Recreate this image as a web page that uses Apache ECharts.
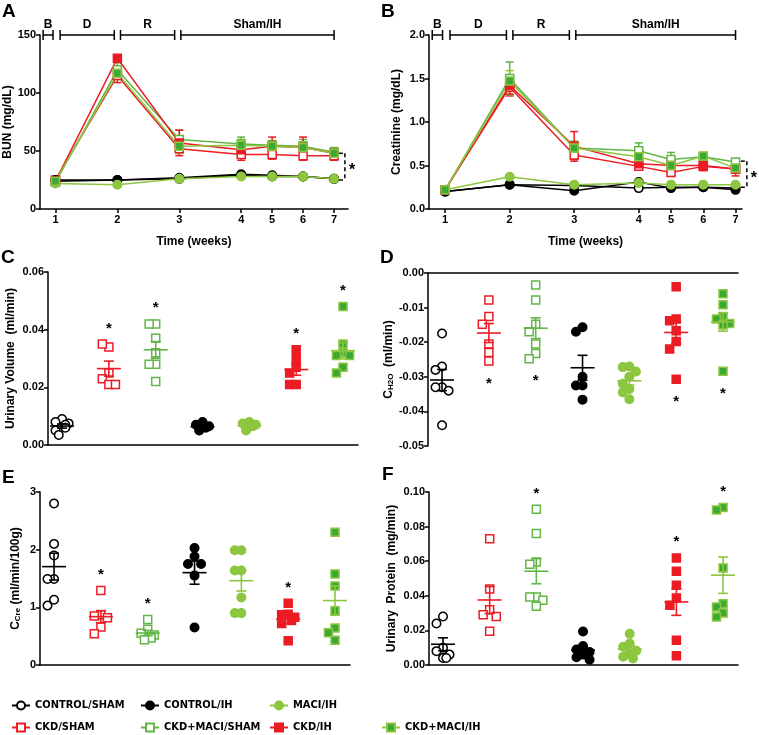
<!DOCTYPE html>
<html>
<head>
<meta charset="utf-8">
<script src="https://cdn.jsdelivr.net/npm/echarts@6/dist/echarts.min.js"></script>
<style>
  html, body { margin: 0; padding: 0; background: #fff; }
  #chart { width: 759px; height: 735px; }
</style>
</head>
<body>
<div id="chart"></div>
<script>
var FONT = '"Liberation Sans", Arial, sans-serif';

// groups, in the order they sit on the scatter panels
var groups = ['CONTROL/SHAM', 'CKD/SHAM', 'CKD+MACI/SHAM', 'CONTROL/IH', 'MACI/IH', 'CKD/IH', 'CKD+MACI/IH'];

// time course (A, B): week labels and where they sit on the x axis
var weekLabels = ['1', '2', '3', '4', '5', '6', '7'];
var weekPos = [0, 2, 4, 6, 7, 8, 9];
var phaseNames = ['B', 'D', 'R', 'Sham/IH'];
var phaseStart = [-0.4, 0.15, 2.1, 4.05];
var phaseEnd = [-0.08, 1.9, 3.85, 9];

// BUN (mg/dL), one row per group
var bunMean = [
    [24, 25, 26, 29, 28, 28, 26],
    [25, 115, 52, 47, 47, 46, 46],
    [23, 120, 60, 56, 55, 54, 49],
    [25, 25, 27, 30, 29, 28, 26],
    [22, 21, 26, 28, 28, 28, 26],
    [24, 130, 57, 51, 54, 53, 48],
    [24, 117, 54, 55, 54, 53, 48]
];
var bunSem = [
    [1, 1, 1, 1, 1, 1, 1],
    [2, 6, 3, 5, 4, 4, 4],
    [2, 6, 8, 6, 4, 6, 4],
    [1, 1, 1, 1, 1, 1, 1],
    [1, 1, 1, 1, 1, 1, 1],
    [2, 3, 11, 4, 8, 9, 3],
    [2, 5, 6, 5, 4, 5, 4]
];
var bunSig = [48, 25];

// Creatinine (mg/dL)
var creMean = [
    [0.20, 0.28, 0.27, 0.24, 0.25, 0.25, 0.24],
    [0.22, 1.40, 0.62, 0.49, 0.42, 0.49, 0.46],
    [0.22, 1.50, 0.70, 0.67, 0.57, 0.60, 0.54],
    [0.20, 0.28, 0.21, 0.31, 0.24, 0.25, 0.22],
    [0.22, 0.37, 0.28, 0.30, 0.28, 0.28, 0.28],
    [0.22, 1.42, 0.72, 0.52, 0.50, 0.50, 0.46],
    [0.22, 1.47, 0.70, 0.60, 0.50, 0.61, 0.47]
];
var creSem = [
    [0.01, 0.01, 0.01, 0.01, 0.01, 0.01, 0.01],
    [0.01, 0.10, 0.05, 0.04, 0.04, 0.05, 0.04],
    [0.01, 0.19, 0.08, 0.09, 0.08, 0.04, 0.03],
    [0.01, 0.01, 0.01, 0.01, 0.01, 0.01, 0.01],
    [0.01, 0.01, 0.01, 0.01, 0.01, 0.01, 0.01],
    [0.01, 0.10, 0.17, 0.05, 0.05, 0.05, 0.08],
    [0.01, 0.12, 0.06, 0.05, 0.05, 0.04, 0.03]
];
var creSig = [0.55, 0.25];

// C: urinary volume (ml/min)
var urineVolume = [
    [0.009, 0.008, 0.0075, 0.007, 0.006, 0.005, 0.0035],
    [0.034, 0.035, 0.025, 0.023, 0.021, 0.021],
    [0.042, 0.042, 0.037, 0.032, 0.028, 0.028, 0.022],
    [0.008, 0.007, 0.0065, 0.006, 0.0055, 0.005],
    [0.008, 0.0075, 0.007, 0.0065, 0.006, 0.005],
    [0.033, 0.030, 0.027, 0.025, 0.021, 0.021],
    [0.048, 0.035, 0.032, 0.031, 0.031, 0.027, 0.025]
];
var urineVolumeStars = [1, 2, 5, 6];

// D: free water clearance (ml/min)
var waterClearance = [
    [-0.0175, -0.027, -0.028, -0.033, -0.033, -0.034, -0.044],
    [-0.0078, -0.0126, -0.0148, -0.0205, -0.023, -0.0254],
    [-0.0035, -0.0078, -0.0148, -0.017, -0.0205, -0.0233, -0.0248],
    [-0.0157, -0.017, -0.030, -0.0325, -0.0325, -0.0366],
    [-0.027, -0.0272, -0.0285, -0.030, -0.032, -0.0335, -0.0345, -0.0365],
    [-0.004, -0.0133, -0.0138, -0.0167, -0.0198, -0.022, -0.0307],
    [-0.006, -0.0092, -0.0126, -0.0133, -0.0146, -0.015, -0.0284]
];
var waterClearanceStars = [1, 2, 5, 6];

// E: creatinine clearance (ml/min/100g)
var creClearance = [
    [2.8, 2.1, 1.9, 1.49, 1.49, 1.13, 1.03],
    [1.29, 0.87, 0.85, 0.82, 0.66, 0.54],
    [0.79, 0.62, 0.55, 0.52, 0.49, 0.47, 0.44],
    [2.03, 1.88, 1.75, 1.75, 1.55, 0.65],
    [1.99, 1.99, 1.64, 1.64, 1.17, 0.90, 0.90],
    [1.07, 0.88, 0.87, 0.83, 0.77, 0.72, 0.42],
    [2.30, 1.58, 1.37, 0.94, 0.64, 0.56, 0.43]
];
var creClearanceStars = [1, 2, 5];

// F: urinary protein (mg/min)
var urineProtein = [
    [0.028, 0.024, 0.010, 0.008, 0.006, 0.004, 0.004],
    [0.073, 0.044, 0.032, 0.029, 0.028, 0.0195],
    [0.090, 0.076, 0.0596, 0.0582, 0.0393, 0.0393, 0.0374, 0.0339],
    [0.0194, 0.011, 0.009, 0.0075, 0.006, 0.0045, 0.003],
    [0.018, 0.0124, 0.0105, 0.0082, 0.0067, 0.0048, 0.0038],
    [0.0619, 0.0542, 0.0461, 0.0388, 0.0346, 0.0143, 0.0053],
    [0.091, 0.0896, 0.0561, 0.0354, 0.0335, 0.030, 0.0278]
];
var urineProteinStars = [2, 5, 6];

// ---- styles ----
var RED = '#ec1c24', GREEN = '#62b646', LIGHT = '#8dc63f', DARK = '#3aaa35';
var groupStyle = [
    { color: '#000', symbol: 'circle', fill: '#fff' },
    { color: RED, symbol: 'rect', fill: '#fff' },
    { color: GREEN, symbol: 'rect', fill: '#fff' },
    { color: '#000', symbol: 'circle', fill: '#000' },
    { color: LIGHT, symbol: 'circle', fill: LIGHT },
    { color: RED, symbol: 'rect', fill: RED },
    { color: LIGHT, symbol: 'rect', fill: DARK }
];
var legendRow = [0, 1, 1, 0, 0, 1, 1];
var legendCol = [0, 0, 1, 1, 2, 2, 3];
var legendX = [11, 140, 269, 381];
var legendY = [700, 722];

var grids = [
    { left: 40, top: 35, width: 308, height: 174 },
    { left: 429, top: 35, width: 313, height: 174 },
    { left: 48, top: 272, width: 310, height: 173 },
    { left: 428, top: 273, width: 310, height: 173 },
    { left: 40, top: 492, width: 310, height: 173 },
    { left: 429, top: 492, width: 309, height: 173 }
];
var letterPos = [[2, 2], [381, 2], [1, 248], [380, 248], [2, 468], [382, 465]];

var axisLineStyle = { color: '#000', width: 1.5 };
var tickStyle = { show: true, length: 4, lineStyle: { color: '#000', width: 1.5 } };
var labelStyle = { color: '#000', fontWeight: 'bold', fontSize: 11, fontFamily: FONT };
var nameStyle = { color: '#000', fontWeight: 'bold', fontSize: 12, fontFamily: FONT };

function yAxisFor(idx, min, max, interval, digits, name, gap) {
    return {
        type: 'value', gridIndex: idx, min: min, max: max, interval: interval,
        axisLine: { show: true, onZero: false, lineStyle: axisLineStyle },
        axisTick: tickStyle,
        splitLine: { show: false },
        axisLabel: Object.assign({ margin: 4, formatter: function (v) { return v.toFixed(digits); } }, labelStyle),
        name: name, nameLocation: 'middle', nameGap: gap,
        nameTextStyle: Object.assign({
            rich: {
                c: { fontSize: 12, fontWeight: 'bold', fontFamily: FONT, lineHeight: 16, verticalAlign: 'bottom' },
                s: { fontSize: 8, fontWeight: 'bold', fontFamily: FONT, lineHeight: 10, verticalAlign: 'bottom' }
            }
        }, nameStyle)
    };
}

function groupXAxis(idx, pos) {
    return {
        type: 'value', gridIndex: idx, min: -0.3, max: 6.32, position: pos || 'bottom',
        axisLine: { show: true, onZero: false, lineStyle: axisLineStyle },
        axisTick: { show: false }, axisLabel: { show: false }, splitLine: { show: false }
    };
}

function timeXAxis(idx, max) {
    return {
        type: 'value', gridIndex: idx, min: -0.5, max: max,
        axisLine: { show: true, onZero: false, lineStyle: axisLineStyle },
        axisTick: Object.assign({ customValues: weekPos }, tickStyle),
        axisLabel: Object.assign({
            margin: 5, customValues: weekPos,
            formatter: function (v) { return weekLabels[weekPos.indexOf(v)]; }
        }, labelStyle),
        splitLine: { show: false },
        name: 'Time (weeks)', nameLocation: 'middle', nameGap: 27, nameTextStyle: nameStyle
    };
}

var xAxes = [timeXAxis(0, 9.45), timeXAxis(1, 9.2), groupXAxis(2), groupXAxis(3, 'top'), groupXAxis(4), groupXAxis(5)];
var yAxes = [
    yAxisFor(0, 0, 150, 50, 0, 'BUN (mg/dL)', 23),
    yAxisFor(1, 0, 2, 0.5, 1, 'Creatinine (mg/dL)', 26),
    yAxisFor(2, 0, 0.06, 0.02, 2, 'Urinary Volume  (ml/min)', 31),
    yAxisFor(3, -0.05, 0, 0.01, 2, '{c|C}{s|H2O}{c|  (ml/min)}', 31),
    yAxisFor(4, 0, 3, 1, 0, '{c|C}{s|Cre}{c| (ml/min/100g)}', 18),
    yAxisFor(5, 0, 0.1, 0.02, 2, 'Urinary  Protein  (mg/min)', 31)
];

var series = [];

// ---- render helpers ----
function renderErr(color) {
    return function (params, api) {
        var x = api.value(0), m = api.value(1), e = api.value(2);
        var t = api.coord([x, m + e]), b = api.coord([x, m - e]);
        var st = { stroke: color, lineWidth: 1.5 };
        return { type: 'group', children: [
            { type: 'line', shape: { x1: t[0], y1: t[1], x2: b[0], y2: b[1] }, style: st },
            { type: 'line', shape: { x1: t[0] - 4, y1: t[1], x2: t[0] + 4, y2: t[1] }, style: st },
            { type: 'line', shape: { x1: b[0] - 4, y1: b[1], x2: b[0] + 4, y2: b[1] }, style: st }
        ] };
    };
}

function renderMeanSem(color) {
    return function (params, api) {
        var x = api.value(0), m = api.value(1), e = api.value(2);
        var c = api.coord([x, m]), t = api.coord([x, m + e]), b = api.coord([x, m - e]);
        var st = { stroke: color, lineWidth: 1.6 };
        return { type: 'group', children: [
            { type: 'line', shape: { x1: c[0] - 12, y1: c[1], x2: c[0] + 12, y2: c[1] }, style: st },
            { type: 'line', shape: { x1: t[0], y1: t[1], x2: b[0], y2: b[1] }, style: st },
            { type: 'line', shape: { x1: t[0] - 5, y1: t[1], x2: t[0] + 5, y2: t[1] }, style: st },
            { type: 'line', shape: { x1: b[0] - 5, y1: b[1], x2: b[0] + 5, y2: b[1] }, style: st }
        ] };
    };
}

function renderPhase(params, api) {
    var a = api.coord([api.value(0), api.value(2)]);
    var b = api.coord([api.value(1), api.value(2)]);
    var st = { stroke: '#000', lineWidth: 1.5 };
    return { type: 'group', children: [
        { type: 'line', shape: { x1: a[0], y1: a[1], x2: b[0], y2: b[1] }, style: st },
        { type: 'line', shape: { x1: a[0], y1: a[1] - 5, x2: a[0], y2: a[1] + 5 }, style: st },
        { type: 'line', shape: { x1: b[0], y1: b[1] - 5, x2: b[0], y2: b[1] + 5 }, style: st },
        { type: 'text', style: { text: phaseNames[params.dataIndex], x: (a[0] + b[0]) / 2, y: a[1] - 4,
            align: 'center', verticalAlign: 'bottom', fontSize: 12, fontWeight: 'bold', fontFamily: FONT, fill: '#000' } }
    ] };
}

function renderSig(params, api) {
    var a = api.coord([api.value(0), api.value(1)]);
    var b = api.coord([api.value(0), api.value(2)]);
    var st = { stroke: '#000', lineWidth: 1.5, lineDash: [4, 3] };
    return { type: 'group', children: [
        { type: 'line', shape: { x1: a[0], y1: a[1], x2: b[0], y2: b[1] }, style: st },
        { type: 'line', shape: { x1: a[0] - 6, y1: a[1], x2: a[0], y2: a[1] }, style: st },
        { type: 'line', shape: { x1: b[0] - 6, y1: b[1], x2: b[0], y2: b[1] }, style: st },
        { type: 'text', style: { text: '*', x: a[0] + 4, y: (a[1] + b[1]) / 2 + 4, align: 'left', verticalAlign: 'middle',
            fontSize: 16, fontWeight: 'bold', fontFamily: FONT, fill: '#000' } }
    ] };
}

function renderStar(params, api) {
    var c = api.coord([api.value(0), api.value(1)]);
    return { type: 'text', style: { text: '*', x: c[0], y: c[1], align: 'center', verticalAlign: 'middle',
        fontSize: 15, fontWeight: 'bold', fontFamily: FONT, fill: '#000' } };
}

// ---- time course panels ----
function timePanel(idx, means, sems, sig, yMax) {
    series.push({
        type: 'custom', xAxisIndex: idx, yAxisIndex: idx, silent: true, z: 5,
        data: phaseStart.map(function (s, i) { return [s, phaseEnd[i], yMax]; }),
        renderItem: renderPhase
    });
    series.push({
        type: 'custom', xAxisIndex: idx, yAxisIndex: idx, silent: true, z: 5,
        data: [[9.35, sig[0], sig[1]]], renderItem: renderSig
    });
    groups.forEach(function (name, g) {
        var sty = groupStyle[g];
        series.push({
            type: 'custom', xAxisIndex: idx, yAxisIndex: idx, silent: true, z: 1,
            data: weekPos.map(function (p, i) { return [p, means[g][i], sems[g][i]]; }),
            renderItem: renderErr(sty.color)
        });
        series.push({
            type: 'line', name: name, xAxisIndex: idx, yAxisIndex: idx, z: 2,
            data: weekPos.map(function (p, i) { return [p, means[g][i]]; }),
            symbol: sty.symbol, symbolSize: sty.symbol === 'rect' ? 8 : 8.5, showAllSymbol: true,
            lineStyle: { color: sty.color, width: 1.5 },
            itemStyle: { color: sty.fill, borderColor: sty.color, borderWidth: 1.5 }
        });
    });
}

timePanel(0, bunMean, bunSem, bunSig, 150);
timePanel(1, creMean, creSem, creSig, 2);

// ---- scatter panels ----
var SLOT = 0.14;
function spread(vals, range) {
    var placed = [];
    return vals.map(function (v) {
        var near = placed.filter(function (p) { return Math.abs(p.v - v) < 0.045 * range; });
        var order = [0, -1, 1], pick = null;
        for (var k = 0; k < order.length; k++) {
            var o = order[k];
            if (near.every(function (p) { return Math.abs(p.o - o) >= 1; })) { pick = o; break; }
        }
        if (pick === null) pick = (near.length % 2 ? 0.5 : -0.5);
        placed.push({ v: v, o: pick });
        return pick;
    });
}
function mean(a) { return a.reduce(function (s, v) { return s + v; }, 0) / a.length; }
function sem(a) {
    var m = mean(a);
    var sd = Math.sqrt(a.reduce(function (s, v) { return s + (v - m) * (v - m); }, 0) / (a.length - 1));
    return sd / Math.sqrt(a.length);
}

function groupPanel(idx, values, stars, below) {
    var ax = yAxes[idx], range = ax.max - ax.min;
    values.forEach(function (vals, g) {
        var sty = groupStyle[g];
        var off = spread(vals, range);
        series.push({
            type: 'scatter', name: groups[g], xAxisIndex: idx, yAxisIndex: idx, z: 2,
            data: vals.map(function (v, i) { return [g + off[i] * SLOT, v]; }),
            symbol: sty.symbol, symbolSize: sty.symbol === 'rect' ? 8 : 8.5,
            itemStyle: { color: sty.fill, borderColor: sty.color, borderWidth: 1.5, opacity: 1 }
        });
        series.push({
            type: 'custom', xAxisIndex: idx, yAxisIndex: idx, silent: true, z: 3,
            data: [[g, mean(vals), sem(vals)]], renderItem: renderMeanSem(sty.color)
        });
    });
    series.push({
        type: 'custom', xAxisIndex: idx, yAxisIndex: idx, silent: true, z: 4,
        data: stars.map(function (g) {
            var v = values[g];
            return below ? [g, Math.min.apply(null, v) - 0.13 * range] : [g, Math.max.apply(null, v) + 0.09 * range];
        }),
        renderItem: renderStar
    });
}

groupPanel(2, urineVolume, urineVolumeStars, false);
groupPanel(3, waterClearance, waterClearanceStars, true);
groupPanel(4, creClearance, creClearanceStars, false);
groupPanel(5, urineProtein, urineProteinStars, false);

// ---- legend, one item each so the columns line up ----
var legends = groups.map(function (name, g) {
    return {
        data: [name], left: legendX[legendCol[g]], top: legendY[legendRow[g]],
        itemWidth: 18, itemHeight: 10, itemGap: 0, padding: 0, selectedMode: false,
        textStyle: { color: '#000', fontWeight: 'bold', fontSize: 11, fontFamily: '"Liberation Sans Narrow", "DejaVu Sans Condensed", ' + FONT }
    };
});

var titles = ['A', 'B', 'C', 'D', 'E', 'F'].map(function (t, i) {
    return { text: t, left: letterPos[i][0], top: letterPos[i][1], padding: 0,
        textStyle: { color: '#000', fontWeight: 'bold', fontSize: 19, fontFamily: FONT } };
});

var chart = echarts.init(document.getElementById('chart'));
chart.setOption({
    animation: false,
    backgroundColor: '#fff',
    title: titles,
    legend: legends,
    grid: grids,
    xAxis: xAxes,
    yAxis: yAxes,
    series: series
});
</script>
</body>
</html>
